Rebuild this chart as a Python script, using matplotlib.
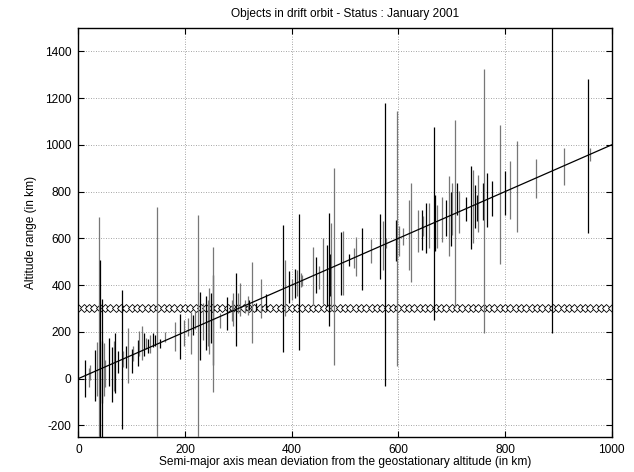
import numpy as np
import matplotlib
matplotlib.use('Agg')
import matplotlib.pyplot as plt

plt.rcParams['font.family'] = ['Liberation Sans', 'DejaVu Sans']
plt.rcParams['axes.unicode_minus'] = False

# Altitude range of each object: semi-major axis deviation, min, max, dark(1)/grey(0)
seg_x = [13, 19, 22, 31, 35, 38, 41, 43.5, 44, 47, 50, 57, 63, 66, 69, 74, 81, 83, 89, 93,
         100, 103, 111, 114, 119, 123, 127, 131, 134, 139, 144, 147, 152, 163, 181, 190, 198,
         206, 211, 214, 219, 224, 227, 234, 239, 242, 245, 249, 252, 253, 265, 278, 287, 290,
         295, 300, 303, 312, 317, 320, 325, 333, 342, 351, 384, 387, 394, 400, 407, 410, 414,
         417, 420, 440, 445, 451, 459, 466, 469, 472, 474, 479, 492, 496, 508, 516, 521, 531,
         549, 566, 572, 574, 576, 595, 598, 601, 609, 619, 623, 637, 644, 647, 651, 658, 666,
         668, 672, 681, 689, 694, 699, 701, 707, 710, 714, 726, 736, 740, 744, 748, 750, 759,
         761, 767, 775, 791, 799, 809, 822, 858, 888, 911, 955, 959]
seg_lo = [-80, -35, -5, -97, -75, -250, -250, -250, -103, -75, -35, -30, -101, -55, -60, 25, -218, 50, 45, -18,
          25, 75, 53, 95, 81, 95, 125, 110, 110, 133, 138, -250, 130, 155, 117, 85, 138,
          181, 107, 188, 210, -250, 81, 167, 124, 138, 103, 154, 60, -58, 218, 209, 245, 224,
          138, 282, 267, 282, 274, 295, 150, 290, 257, 295, 113, 267, 325, 338, 346, 352, 124,
          390, 395, 316, 368, 384, 317, 309, 224, 352, 288, 56, 359, 359, 480, 474, 438, 380,
          496, 428, 466, -30, 560, 502, 53, 523, 573, 466, 411, 543, 552, 609, 539, 560, 252,
          545, 560, 586, 612, 523, 566, 616, 305, 700, 624, 673, 556, 582, 646, 673, 629, 680,
          197, 650, 695, 492, 700, 684, 626, 774, 197, 830, 624, 930]
seg_hi = [80, 47, 60, 124, 155, 690, 508, 342, 160, 150, 80, 175, 133, 160, 197, 117, 378, 117, 140, 218,
          125, 140, 167, 202, 224, 197, 175, 170, 188, 197, 188, 736, 170, 200, 241, 278, 252,
          261, 284, 270, 288, 700, 369, 325, 352, 338, 389, 368, 441, 562, 282, 348, 338, 368,
          450, 368, 410, 338, 352, 338, 500, 325, 424, 360, 655, 509, 459, 428, 470, 466, 702,
          453, 445, 562, 522, 480, 603, 573, 710, 531, 667, 903, 626, 633, 531, 560, 607, 646,
          599, 706, 673, 1177, 600, 680, 1145, 652, 646, 763, 838, 723, 723, 694, 753, 753, 1078,
          787, 741, 775, 762, 866, 797, 838, 1105, 838, 801, 775, 911, 894, 830, 787, 873, 838,
          1326, 881, 845, 1087, 890, 933, 1015, 941, 1500, 988, 1282, 988]
seg_dark = [1, 0, 0, 1, 0, 0, 1, 1, 1, 0, 0, 1, 1, 0, 1, 1, 1, 0, 1, 0,
            1, 0, 1, 0, 0, 1, 0, 1, 0, 1, 1, 0, 1, 0, 0, 1, 0,
            0, 0, 1, 0, 0, 1, 0, 1, 0, 0, 1, 1, 0, 0, 1, 0, 0,
            1, 0, 0, 0, 0, 1, 0, 1, 0, 1, 1, 0, 1, 0, 1, 0, 1,
            0, 0, 0, 1, 0, 0, 1, 1, 1, 0, 0, 1, 0, 1, 0, 0, 1,
            0, 1, 0, 1, 0, 1, 0, 0, 0, 0, 0, 0, 1, 0, 1, 0, 1,
            1, 0, 0, 1, 0, 1, 0, 0, 1, 0, 1, 1, 0, 1, 1, 0, 1,
            0, 1, 1, 0, 1, 0, 0, 0, 1, 0, 1, 0]

# reference altitude marker row and the y = x line
ref_x = np.arange(0, 1001, 10)
ref_alt = 300
diag_x = [0, 1000]
diag_y = [0, 1000]

fig = plt.figure(figsize=(6.34, 4.72), dpi=100)
ax = fig.add_axes([0.1238, 0.0742, 0.841, 0.8665])

ax.plot(ref_x, np.full(len(ref_x), ref_alt), linestyle='none', marker='D',
        markersize=4.0, mfc='white', mec='black', mew=0.6, zorder=2)
colors = ['black' if d else '#777777' for d in seg_dark]
ax.vlines(seg_x, seg_lo, seg_hi, colors=colors, linewidth=0.9, zorder=3)
ax.plot(diag_x, diag_y, color='black', linewidth=0.9, zorder=4)

ax.set_xlim(0, 1000)
ax.set_ylim(-250, 1500)
ax.set_xticks(range(0, 1001, 200))
ax.set_yticks(range(-200, 1401, 200))
ax.grid(True, linestyle=(0, (1, 2)), color='#888888', linewidth=0.6)
ax.tick_params(direction='in', length=4, width=0.8, top=True, right=True,
               labelsize=8.6, pad=5)
for s in ax.spines.values():
    s.set_linewidth(1.0)

ax.set_title('Objects in drift orbit - Status : January 2001', fontsize=8.6, pad=8)
ax.set_xlabel('Semi-major axis mean deviation from the geostationary altitude (in km)',
              fontsize=8.6, labelpad=0)
ax.set_ylabel('Altitude range (in km)', fontsize=8.6, labelpad=6)

fig.savefig('out.png', dpi=100)
